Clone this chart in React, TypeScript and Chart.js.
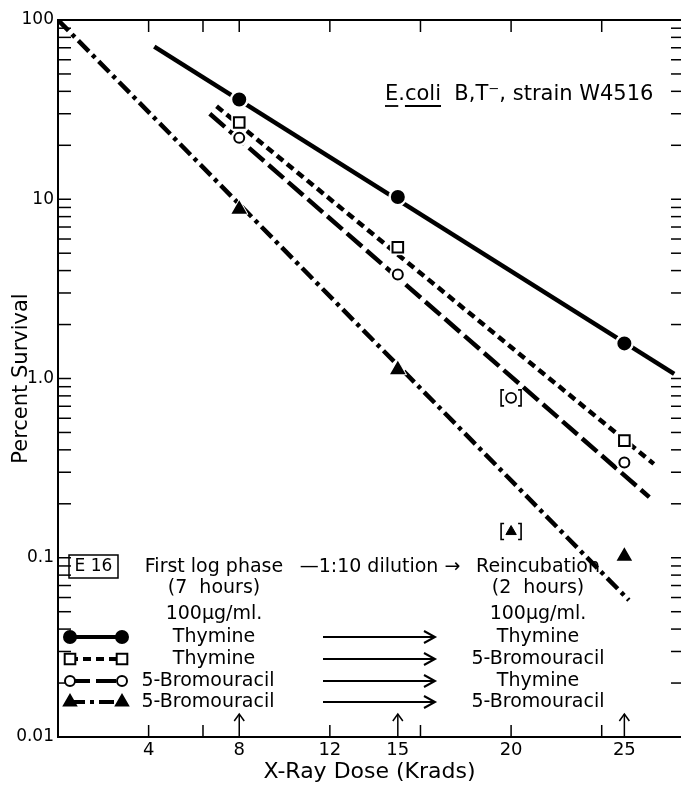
import React, { useEffect, useRef } from 'react';
import { Chart, registerables } from 'chart.js';

Chart.register(...registerables);

const FONT = '"DejaVu Sans", "Noto Sans", sans-serif';

// Axis ticks
const xLabelDoses = [4, 8, 12, 15, 20, 25];
const xTickMarkDoses = [4, 6.4, 8, 12, 16, 20, 24];
const arrowDoses = [8, 15, 25];
const yLabelValues = [0.01, 0.1, 1, 10, 100];
const yLabelTexts = ['0.01', '0.1', '1.0', '10', '100'];

// Measured points (percent survival)
const pointDoses = [8, 15, 25];
const thyThyPts = [36, 10.3, 1.57];
const thyBuPts = [26.8, 5.4, 0.45];
const buThyPts = [22, 3.8, 0.34];
const buBuPts = [8.8, 1.12, 0.102];
const bracketDoses = [20];
const buThyBracketPts = [0.78];
const buBuBracketPts = [0.14];

// Fitted line endpoints
const thyThyLineX = [4.25, 27.2];
const thyThyLineY = [71, 1.06];
const thyBuLineX = [7.0, 26.3];
const thyBuLineY = [33, 0.334];
const buThyLineX = [6.7, 26.1];
const buThyLineY = [30, 0.218];
const buBuLineX = [0, 25.2];
const buBuLineY = [100, 0.058];

// Legend texts
const firstPhase = ['Thymine', 'Thymine', '5-Bromouracil', '5-Bromouracil'];
const reincubation = ['Thymine', '5-Bromouracil', 'Thymine', '5-Bromouracil'];

const zip = (xs: number[], ys: number[]) => xs.map((x, i) => ({ x, y: ys[i] }));

type Style = { dash: number[]; shape: 'circle' | 'rect' | 'triangle'; filled: boolean; r: number };
const styles: Style[] = [
  { dash: [], shape: 'circle', filled: true, r: 6 },
  { dash: [8, 5], shape: 'rect', filled: false, r: 7.5 },
  { dash: [20, 6], shape: 'circle', filled: false, r: 5 },
  { dash: [15, 5, 4, 5], shape: 'triangle', filled: true, r: 7 },
];
const seriesPts = [thyThyPts, thyBuPts, buThyPts, buBuPts];
const seriesLines = [
  zip(thyThyLineX, thyThyLineY),
  zip(thyBuLineX, thyBuLineY),
  zip(buThyLineX, buThyLineY),
  zip(buBuLineX, buBuLineY),
];

function drawMarker(ctx: CanvasRenderingContext2D, s: Style, x: number, y: number) {
  ctx.save();
  ctx.setLineDash([]);
  ctx.lineWidth = 2;
  ctx.strokeStyle = '#000';
  ctx.fillStyle = s.filled ? '#000' : '#fff';
  ctx.beginPath();
  if (s.shape === 'circle') {
    ctx.arc(x, y, s.r, 0, Math.PI * 2);
  } else if (s.shape === 'rect') {
    const h = s.r * Math.SQRT1_2;
    ctx.rect(x - h, y - h, 2 * h, 2 * h);
  } else {
    let a = 0;
    ctx.moveTo(x + Math.sin(a) * s.r, y - Math.cos(a) * s.r);
    a += (2 * Math.PI) / 3;
    ctx.lineTo(x + Math.sin(a) * s.r, y - Math.cos(a) * s.r);
    a += (2 * Math.PI) / 3;
    ctx.lineTo(x + Math.sin(a) * s.r, y - Math.cos(a) * s.r);
    ctx.closePath();
  }
  ctx.fill();
  ctx.stroke();
  ctx.restore();
}

const overlay = {
  id: 'overlay',
  afterDraw(chart: any) {
    const { ctx, chartArea: a, scales } = chart;
    const xs = scales.x;
    const ys = scales.y;
    const line = (x1: number, y1: number, x2: number, y2: number) => {
      ctx.beginPath();
      ctx.moveTo(x1, y1);
      ctx.lineTo(x2, y2);
      ctx.stroke();
    };
    const text = (s: string, x: number, y: number, size = 19, align: CanvasTextAlign = 'center') => {
      ctx.font = `${size}px ${FONT}`;
      ctx.textAlign = align;
      ctx.textBaseline = 'middle';
      ctx.fillText(s, x, y);
    };
    ctx.save();
    ctx.strokeStyle = '#000';
    ctx.fillStyle = '#000';
    ctx.lineWidth = 2;
    line(a.left, a.top, a.right, a.top);

    // tick marks (inward)
    ctx.lineWidth = 1.5;
    xTickMarkDoses.forEach((v) => {
      const px = xs.getPixelForValue(v);
      if (!arrowDoses.includes(v)) line(px, a.bottom, px, a.bottom - 12);
      line(px, a.top, px, a.top + 12);
    });
    for (let d = -2; d < 2; d++) {
      for (let m = 1; m < 10; m++) {
        const py = ys.getPixelForValue(m * Math.pow(10, d));
        line(a.left, py, a.left + 13, py);
        line(a.right, py, a.right - 10, py);
      }
    }

    // up arrows at irradiation doses
    ctx.lineWidth = 1.5;
    arrowDoses.forEach((v) => {
      const px = xs.getPixelForValue(v);
      line(px, a.bottom - 1, px, a.bottom - 23);
      ctx.beginPath();
      ctx.moveTo(px - 5, a.bottom - 16);
      ctx.lineTo(px, a.bottom - 23);
      ctx.lineTo(px + 5, a.bottom - 16);
      ctx.stroke();
    });

    // brackets around bracketed points
    chart.data.datasets.forEach((ds: any, i: number) => {
      if (!ds.bracket) return;
      chart.getDatasetMeta(i).data.forEach((p: any) => {
        ctx.lineWidth = 1.6;
        const w = 10;
        const h = 8;
        ctx.beginPath();
        ctx.moveTo(p.x - w + 3, p.y - h);
        ctx.lineTo(p.x - w, p.y - h);
        ctx.lineTo(p.x - w, p.y + h);
        ctx.lineTo(p.x - w + 3, p.y + h);
        ctx.moveTo(p.x + w - 3, p.y - h);
        ctx.lineTo(p.x + w, p.y - h);
        ctx.lineTo(p.x + w, p.y + h);
        ctx.lineTo(p.x + w - 3, p.y + h);
        ctx.stroke();
      });
    });

    // title
    ctx.font = `21px ${FONT}`;
    ctx.textBaseline = 'alphabetic';
    ctx.textAlign = 'left';
    let tx = 385;
    const ty = 100;
    const parts: [string, boolean][] = [
      ['E', true],
      ['.', false],
      ['coli', true],
      ['  B,T\u207B, strain W4516', false],
    ];
    ctx.lineWidth = 1.8;
    parts.forEach(([s, u]) => {
      const w = ctx.measureText(s).width;
      ctx.fillText(s, tx, ty);
      if (u) line(tx, ty + 6, tx + w, ty + 6);
      tx += w;
    });

    // E16 box
    ctx.lineWidth = 1.5;
    ctx.strokeRect(69, 555, 49, 23);
    text('E 16', 93.5, 567, 17);

    // column headers
    const lc = 214;
    const rc = 538;
    text('First log phase', lc, 567);
    text('(7  hours)', lc, 588);
    text('100\u03BCg/ml.', lc, 614);
    text('\u20141:10 dilution \u2192', 380, 567);
    text('Reincubation', rc, 567);
    text('(2  hours)', rc, 588);
    text('100\u03BCg/ml.', rc, 614);

    const rowsY = [637, 659, 681, 702];
    rowsY.forEach((y, i) => {
      const s = styles[i];
      ctx.save();
      ctx.lineWidth = 4;
      ctx.setLineDash(s.dash);
      line(70, y, 122, y);
      ctx.restore();
      drawMarker(ctx, s, 70, y);
      drawMarker(ctx, s, 122, y);
      text(firstPhase[i], i >= 2 ? 208 : lc, y);
      text(reincubation[i], rc, y);
      ctx.lineWidth = 2;
      line(323, y, 434, y);
      ctx.beginPath();
      ctx.moveTo(424, y - 6);
      ctx.lineTo(435, y);
      ctx.lineTo(424, y + 6);
      ctx.stroke();
    });

    ctx.restore();
  },
};

export default function App() {
  const ref = useRef<HTMLCanvasElement>(null);
  useEffect(() => {
    const datasets: any[] = [];
    styles.forEach((s, i) => {
      datasets.push({
        label: `line${i}`,
        data: seriesLines[i],
        showLine: true,
        borderColor: '#000',
        borderWidth: 4.5,
        borderDash: s.dash,
        borderCapStyle: 'butt',
        pointRadius: 0,
        order: 3,
      });
      const pts = zip(pointDoses, seriesPts[i]);
      datasets.push({
        label: `halo${i}`,
        data: pts,
        showLine: false,
        pointStyle: s.shape,
        pointRadius: s.r + 3,
        pointBackgroundColor: '#fff',
        pointBorderColor: '#fff',
        pointBorderWidth: 1,
        order: 2,
      });
      datasets.push({
        label: `pts${i}`,
        data: pts,
        showLine: false,
        pointStyle: s.shape,
        pointRadius: s.r,
        pointBackgroundColor: s.filled ? '#000' : '#fff',
        pointBorderColor: '#000',
        pointBorderWidth: 2,
        order: 1,
      });
    });
    datasets.push({
      label: 'bracketCircle',
      bracket: true,
      data: zip(bracketDoses, buThyBracketPts),
      showLine: false,
      pointStyle: 'circle',
      pointRadius: 5,
      pointBackgroundColor: '#fff',
      pointBorderColor: '#000',
      pointBorderWidth: 1.8,
      order: 1,
    });
    datasets.push({
      label: 'bracketTriangle',
      bracket: true,
      data: zip(bracketDoses, buBuBracketPts),
      showLine: false,
      pointStyle: 'triangle',
      pointRadius: 6,
      pointBackgroundColor: '#000',
      pointBorderColor: '#000',
      pointBorderWidth: 1,
      order: 1,
    });

    const chart = new Chart(ref.current as HTMLCanvasElement, {
      type: 'scatter',
      data: { datasets },
      options: {
        animation: false,
        responsive: false,
        maintainAspectRatio: false,
        devicePixelRatio: 1,
        layout: { autoPadding: false, padding: { top: 20, right: 0, left: 0, bottom: 0 } },
        plugins: { legend: { display: false }, tooltip: { enabled: false } },
        scales: {
          x: {
            type: 'linear',
            min: 0,
            max: 27.5,
            afterBuildTicks: (s: any) => {
              s.ticks = xLabelDoses.map((v) => ({ value: v }));
            },
            afterFit: (s: any) => {
              s.height = 48;
              s.paddingLeft = 0;
              s.paddingRight = 0;
            },
            ticks: {
              color: '#000',
              font: { family: FONT, size: 18 },
              padding: 3,
              maxRotation: 0,
              autoSkip: false,
              callback: (v: any) => String(v),
            },
            grid: { display: false, drawTicks: false },
            border: { display: true, color: '#000', width: 2 },
            title: {
              display: true,
              text: 'X-Ray Dose (Krads)',
              color: '#000',
              font: { family: FONT, size: 22 },
              padding: { top: 0, bottom: 0 },
            },
          },
          y: {
            type: 'logarithmic',
            min: 0.01,
            max: 100,
            afterBuildTicks: (s: any) => {
              s.ticks = yLabelValues.map((v) => ({ value: v }));
            },
            afterFit: (s: any) => {
              s.width = 58;
              s.paddingTop = 0;
              s.paddingBottom = 0;
            },
            ticks: {
              color: '#000',
              font: { family: FONT, size: 17 },
              padding: 4,
              autoSkip: false,
              callback: (v: any) => {
                const i = yLabelValues.findIndex((t) => Math.abs(t - v) / t < 1e-6);
                return i >= 0 ? yLabelTexts[i] : '';
              },
            },
            grid: { display: false, drawTicks: false },
            border: { display: true, color: '#000', width: 2 },
            title: {
              display: true,
              text: 'Percent Survival',
              color: '#000',
              font: { family: FONT, size: 21 },
              padding: { top: 9, bottom: 0 },
            },
          },
        },
      },
      plugins: [overlay],
    } as any);
    return () => chart.destroy();
  }, []);
  return (
    <div style={{ position: 'absolute', left: 0, top: 0, width: 681, height: 785, background: '#fff' }}>
      <canvas ref={ref} width={681} height={785} style={{ display: 'block' }} />
    </div>
  );
}
